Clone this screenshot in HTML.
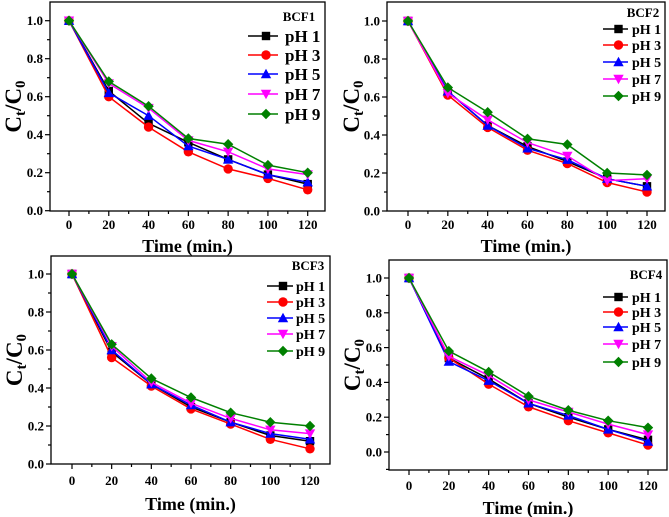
<!DOCTYPE html>
<html><head><meta charset="utf-8"><style>
body{margin:0;background:#fff}
svg{display:block}
text{font-family:"Liberation Serif",serif;font-weight:bold;fill:#000}
</style></head><body>
<svg id="chart" width="669" height="517" viewBox="0 0 669 517" xmlns="http://www.w3.org/2000/svg"></svg>
<script>
const times=[0,20,40,60,80,100,120];
const seriesNames=["pH 1","pH 3","pH 5","pH 7","pH 9"];
const panelTitles=["BCF1","BCF2","BCF3","BCF4"];
const bcf1_ph1=[1,0.63,0.46,0.36,0.27,0.19,0.14];
const bcf1_ph3=[1,0.60,0.44,0.31,0.22,0.17,0.11];
const bcf1_ph5=[1,0.62,0.50,0.34,0.27,0.19,0.15];
const bcf1_ph7=[1,0.67,0.54,0.37,0.31,0.22,0.19];
const bcf1_ph9=[1,0.68,0.55,0.38,0.35,0.24,0.20];
const bcf2_ph1=[1,0.63,0.45,0.34,0.26,0.17,0.13];
const bcf2_ph3=[1,0.61,0.44,0.32,0.25,0.15,0.10];
const bcf2_ph5=[1,0.63,0.45,0.33,0.27,0.17,0.13];
const bcf2_ph7=[1,0.62,0.48,0.36,0.29,0.16,0.17];
const bcf2_ph9=[1,0.65,0.52,0.38,0.35,0.20,0.19];
const bcf3_ph1=[1,0.59,0.42,0.30,0.22,0.15,0.12];
const bcf3_ph3=[1,0.56,0.41,0.29,0.21,0.13,0.08];
const bcf3_ph5=[1,0.60,0.42,0.31,0.22,0.16,0.13];
const bcf3_ph7=[1,0.62,0.43,0.32,0.24,0.18,0.16];
const bcf3_ph9=[1,0.63,0.45,0.35,0.27,0.22,0.20];
const bcf4_ph1=[1,0.54,0.42,0.28,0.20,0.13,0.07];
const bcf4_ph3=[1,0.54,0.39,0.26,0.18,0.11,0.04];
const bcf4_ph5=[1,0.52,0.41,0.28,0.21,0.13,0.06];
const bcf4_ph7=[1,0.55,0.44,0.30,0.23,0.16,0.10];
const bcf4_ph9=[1,0.58,0.46,0.32,0.24,0.18,0.14];
const xTicks=[0,20,40,60,80,100,120];
const yTicks=[0,0.2,0.4,0.6,0.8,1.0];
const panelData=[[bcf1_ph1,bcf1_ph3,bcf1_ph5,bcf1_ph7,bcf1_ph9],[bcf2_ph1,bcf2_ph3,bcf2_ph5,bcf2_ph7,bcf2_ph9],[bcf3_ph1,bcf3_ph3,bcf3_ph5,bcf3_ph7,bcf3_ph9],[bcf4_ph1,bcf4_ph3,bcf4_ph5,bcf4_ph7,bcf4_ph9]];

const colors=["#000000","#ff0000","#0000ff","#ff00ff","#008000"];
const shapes=["square","circle","tri","dtri","diamond"];
const layouts=[
 {bl:50,br:325,bt:2,bb:211,x0:69,x1:307.7,y0:210.7,y1:20.7,ymin:0,xl:43,xly:225,tly:246,yl:14,bx:299,by:21,leg:[36,55,74,94,114],lx1:248,lx2:278,tx:285,fs:17,tfs:13},
 {bl:387,br:665,bt:2,bb:211,x0:408,x1:647,y0:211,y1:21,ymin:0,xl:380,xly:225,tly:246,yl:352,bx:643,by:17,leg:[29,45,62,79,96],lx1:603,lx2:628,tx:632,fs:14,tfs:13},
 {bl:51,br:330,bt:256,bb:464,x0:72,x1:310,y0:464,y1:274,ymin:0,xl:44,xly:481,tly:504,yl:15,bx:308,by:270,leg:[286,302,318,334,351],lx1:267,lx2:293,tx:296,fs:14,tfs:13},
 {bl:389,br:667,bt:260,bb:470,x0:409,x1:648,y0:452,y1:278,ymin:-0.1,xl:382,xly:486,tly:508,yl:353,bx:646,by:279,leg:[297,312,327,344,362],lx1:603,lx2:628,tx:632,fs:14,tfs:13}
];
const NS="http://www.w3.org/2000/svg";
const svg=document.getElementById("chart");
function mk(tag,attrs,parent){const e=document.createElementNS(NS,tag);for(const k in attrs)e.setAttribute(k,attrs[k]);(parent||svg).appendChild(e);return e;}
function marker(g,shape,cx,cy,c){
 const r=4.2;let e;
 if(shape==="square")e=mk("rect",{x:cx-r,y:cy-r,width:2*r,height:2*r,fill:c},g);
 else if(shape==="circle")e=mk("circle",{cx:cx,cy:cy,r:r+0.5,fill:c},g);
 else if(shape==="tri")e=mk("polygon",{points:`${cx},${cy-r-1} ${cx-r-1},${cy+r} ${cx+r+1},${cy+r}`,fill:c},g);
 else if(shape==="dtri")e=mk("polygon",{points:`${cx},${cy+r+1} ${cx-r-1},${cy-r} ${cx+r+1},${cy-r}`,fill:c},g);
 else e=mk("polygon",{points:`${cx},${cy-r-1} ${cx-r-1},${cy} ${cx},${cy+r+1} ${cx+r+1},${cy}`,fill:c},g);
 return e;
}
layouts.forEach((L,p)=>{
 const g=mk("g",{});
 
 
 const sx=v=>L.x0+(v-0)*(L.x1-L.x0)/120;
 const sy=v=>L.y0-(v-0)*(L.y0-L.y1)/1.0;
 const box=mk("rect",{x:L.bl,y:L.bt,width:L.br-L.bl,height:L.bb-L.bt,fill:"none",stroke:"#000","stroke-width":1.3},g);
 
 
 for(let v=0;v<=120;v+=10){
  const major=v%20===0;
  mk("line",{x1:sx(v),x2:sx(v),y1:L.bb,y2:L.bb+(major?5:3),stroke:"#000","stroke-width":1.2},g);
 }
 xTicks.forEach(v=>{
  const t=mk("text",{x:sx(v),y:L.xly+4,"text-anchor":"middle","font-size":L.tfs},g);
  t.textContent=v;
  
  
 });
 for(let k=Math.round(L.ymin*10);k<=10;k++){
  const v=k/10;const major=k%2===0;
  mk("line",{x1:L.bl,x2:L.bl-(major?5:3),y1:sy(v),y2:sy(v),stroke:"#000","stroke-width":1.2},g);
 }
 yTicks.forEach(v=>{
  const t=mk("text",{x:L.xl,y:sy(v)+4.5,"text-anchor":"end","font-size":L.tfs},g);
  t.textContent=v.toFixed(1);
  
  
 });
 const xt=mk("text",{x:(L.bl+L.br)/2,y:L.tly+6,"text-anchor":"middle","font-size":18},g);
 xt.textContent="Time (min.)";
 
 
 const yc=(L.bt+L.bb)/2;
 const yt=mk("text",{x:L.yl,y:yc,"text-anchor":"middle","font-size":23,transform:`rotate(-90 ${L.yl} ${yc})`,dy:7},g);
 yt.innerHTML='C<tspan font-size="15" dy="4">t</tspan><tspan dy="-4">/C</tspan><tspan font-size="15" dy="4">0</tspan>';
 
 
 panelData[p].forEach((arr,s)=>{
  const sg=mk("g",{},g);
  
  
  mk("polyline",{points:arr.map((v,i)=>sx(times[i])+","+sy(v)).join(" "),fill:"none",stroke:colors[s],"stroke-width":1.5},sg);
  arr.forEach((v,i)=>{
   const m=marker(sg,shapes[s],sx(times[i]),sy(v),colors[s]);
   
   
  });
 });
 const bt=mk("text",{x:L.bx,y:L.by,"text-anchor":"middle","font-size":13},g);
 bt.textContent=panelTitles[p];
 
 
 seriesNames.forEach((nm,s)=>{
  const lg=mk("g",{},g);
  
  
  const y=L.leg[s];
  mk("line",{x1:L.lx1,x2:L.lx2,y1:y,y2:y,stroke:colors[s],"stroke-width":1.5},lg);
  marker(lg,shapes[s],(L.lx1+L.lx2)/2+3,y,colors[s]);
  const t=mk("text",{x:L.tx,y:y+L.fs*0.35,"font-size":L.fs},lg);
  t.textContent=nm;
 });
});
</script>
</body></html>
